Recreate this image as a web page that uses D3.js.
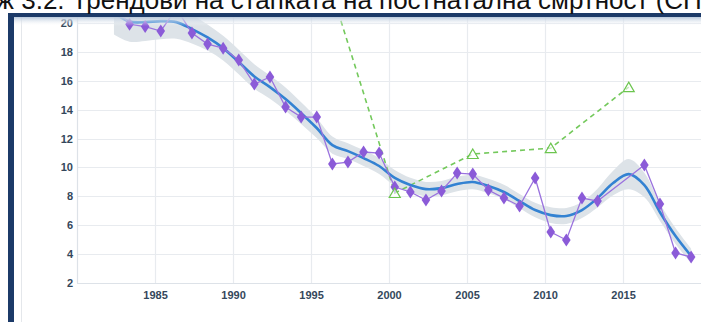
<!DOCTYPE html>
<html>
<head>
<meta charset="utf-8">
<script src="https://cdn.jsdelivr.net/npm/d3@7"></script>
<style>
  html, body { margin: 0; padding: 0; background: #fff; }
  svg { display: block; }
</style>
</head>
<body>
<svg id="chart" width="701" height="322"></svg>
<script>
// Observed rate by year
const obsYears = [1982,1983,1984,1985,1986,1987,1988,1989,1990,1991,1992,1993,1994,1995,1996,1997,1998,1999,
                  2000,2001,2002,2003,2004,2005,2006,2007,2008,2009,2010,2011,2012,2013,2016,2017,2018,2019];
const obsRate  = [21.2,19.92,19.75,19.44,21.0,19.3,18.54,18.26,17.43,15.77,16.26,14.18,13.49,13.49,10.24,10.37,11.07,11.0,
                  8.64,8.30,7.74,8.37,9.61,9.54,8.44,7.88,7.33,9.27,5.53,4.98,7.88,7.67,10.17,7.47,4.08,3.80];

// Smoothed trend with its confidence band
const trendYears = [1982,1983,1984,1985,1986,1987,1988,1989,1990,1991,1992,1993,1994,1995,1996,1997,1998,1999,
                    2000,2001,2002,2003,2004,2005,2006,2007,2008,2009,2010,2011,2012,2013,2014,2015,2016,2017,2018,2019];
const trend    = [20.7,20.1,20.06,20.13,20.06,19.58,19.0,18.26,17.3,16.3,15.56,14.73,13.76,12.73,11.55,11.13,10.65,10.1,
                  9.27,8.78,8.5,8.57,8.85,8.99,8.71,8.3,7.67,7.05,6.7,6.64,7.05,7.88,8.92,9.54,8.78,6.9,5.25,3.87];
const trendLow = [19.2,18.7,18.76,18.88,18.91,18.58,18.1,17.41,16.45,15.45,14.76,13.93,13.01,12.03,10.95,10.58,10.1,9.55,
                  8.72,8.28,8.0,8.07,8.35,8.49,8.21,7.8,7.17,6.55,6.15,6.09,6.5,7.23,8.07,8.49,7.93,6.3,4.7,3.37];
const trendHigh= [22.2,21.5,21.36,21.38,21.21,20.58,19.9,19.11,18.15,17.15,16.36,15.53,14.51,13.43,12.15,11.68,11.2,10.65,
                  9.82,9.28,9.0,9.07,9.35,9.49,9.21,8.8,8.17,7.55,7.25,7.19,7.6,8.53,9.77,10.59,9.63,7.5,5.8,4.37];

// Five-year series
const fiveYears = [1995, 2000, 2005, 2010, 2015];
const fiveRate  = [25.5, 8.23, 10.93, 11.34, 15.56];

// Axis ticks
const xTickYears = [1985, 1990, 1995, 2000, 2005, 2010, 2015];
const yTicks = [2, 4, 6, 8, 10, 12, 14, 16, 18, 20];

const titleLead = "Цртеж ";
const titleRest = "3.2. Трендови на стапката на постнатална смртност (СПС)";

const W = 701, H = 322;
const plot = { left: 77, right: 701, top: 17, bottom: 283 };

// observations are dated in the middle of May of each year
const obsDate = y => new Date(y, 4, 15);

const svg = d3.select("#chart");
svg.append("rect").attr("width", W).attr("height", H).attr("fill", "#fff");

const x = d3.scaleTime()
  .domain([new Date(1980, 0, 1), new Date(2020, 0, 1)])
  .range([plot.left, plot.right]);
const y = d3.scaleLinear().domain([2, 20]).range([283, 23]);

const defs = svg.append("defs");
defs.append("clipPath").attr("id", "plotClip")
  .append("rect").attr("x", plot.left).attr("y", plot.top)
  .attr("width", plot.right - plot.left).attr("height", H - plot.top);
const grad = defs.append("linearGradient").attr("id", "topShade")
  .attr("x1", 0).attr("y1", 0).attr("x2", 0).attr("y2", 1);
grad.append("stop").attr("offset", "0%").attr("stop-color", "#b9c9dc");
grad.append("stop").attr("offset", "100%").attr("stop-color", "#ffffff").attr("stop-opacity", 0);

// panel edge
svg.append("line").attr("x1", 21.5).attr("x2", 21.5).attr("y1", 17).attr("y2", H)
  .attr("stroke", "#e4e7eb").attr("stroke-width", 1);

// grid
const grid = svg.append("g");
grid.selectAll("line.h").data(yTicks).join("line")
  .attr("x1", plot.left).attr("x2", plot.right)
  .attr("y1", d => Math.round(y(d)) + 0.5).attr("y2", d => Math.round(y(d)) + 0.5)
  .attr("stroke", d => d === 2 ? "#dde2e8" : "#e8ebef").attr("stroke-width", 1.2);
grid.selectAll("line.v").data([1980].concat(xTickYears)).join("line")
  .attr("x1", d => Math.round(x(new Date(d, 0, 1))) + 0.5)
  .attr("x2", d => Math.round(x(new Date(d, 0, 1))) + 0.5)
  .attr("y1", plot.top).attr("y2", plot.bottom)
  .attr("stroke", d => d === 1980 ? "#dde2e8" : "#e8ebef").attr("stroke-width", 1.2);

// axes (labels only)
const xAxis = d3.axisBottom(x)
  .tickValues(xTickYears.map(d => new Date(d, 0, 1)))
  .tickFormat(d3.timeFormat("%Y")).tickSize(0).tickPadding(0);
const gx = svg.append("g").attr("transform", `translate(0,${plot.bottom + 8})`).call(xAxis);
const yAxis = d3.axisLeft(y).tickValues(yTicks).tickSize(0).tickPadding(0);
const gy = svg.append("g").attr("transform", `translate(${plot.left - 4},0)`).call(yAxis);
[gx, gy].forEach(g => {
  g.select(".domain").remove();
  g.selectAll("text")
    .attr("fill", "#34475b")
    .style("font-family", "'Liberation Sans', Arial, sans-serif")
    .style("font-size", "11px")
    .style("font-weight", "bold");
});

const data = svg.append("g").attr("clip-path", "url(#plotClip)");

// confidence band
const band = d3.area()
  .x((d, i) => x(obsDate(trendYears[i])))
  .y0((d, i) => y(trendLow[i]))
  .y1((d, i) => y(trendHigh[i]))
  .curve(d3.curveCatmullRom);
data.append("path").datum(trend).attr("d", band).attr("fill", "#dde3e8");

// five-year series
const fiveLine = d3.line().x((d, i) => x(obsDate(fiveYears[i]))).y(d => y(d));
data.append("path").datum(fiveRate).attr("d", fiveLine)
  .attr("fill", "none").attr("stroke", "#74c95c").attr("stroke-width", 1.6)
  .attr("stroke-dasharray", "5,4");

// trend line
const trendLine = d3.line().x((d, i) => x(obsDate(trendYears[i]))).y(d => y(d)).curve(d3.curveCatmullRom);
data.append("path").datum(trend).attr("d", trendLine)
  .attr("fill", "none").attr("stroke", "#3382d2").attr("stroke-width", 2.6);

// observed series
const obsLine = d3.line().x((d, i) => x(obsDate(obsYears[i]))).y(d => y(d));
data.append("path").datum(obsRate).attr("d", obsLine)
  .attr("fill", "none").attr("stroke", "#9a72de").attr("stroke-width", 1.3);
data.selectAll("path.diamond").data(obsRate).join("path")
  .attr("class", "diamond")
  .attr("d", "M0,-6.5L4.3,0L0,6.5L-4.3,0Z")
  .attr("transform", (d, i) => `translate(${x(obsDate(obsYears[i]))},${y(d)})`)
  .attr("fill", "#8b5bd8");

// five-year markers
data.selectAll("path.tri").data(fiveRate).join("path")
  .attr("class", "tri")
  .attr("d", "M0,-5L5.5,4.5L-5.5,4.5Z")
  .attr("transform", (d, i) => `translate(${x(obsDate(fiveYears[i]))},${y(d)})`)
  .attr("fill", "#fff").attr("fill-opacity", 0.6)
  .attr("stroke", "#6cc54f").attr("stroke-width", 1.2);

// frame
svg.append("rect").attr("x", 14).attr("y", 17).attr("width", W - 14).attr("height", 9)
  .attr("fill", "url(#topShade)");
svg.append("rect").attr("x", 8).attr("y", 13).attr("width", W - 8).attr("height", 4).attr("fill", "#1c3a68");
svg.append("rect").attr("x", 8).attr("y", 13).attr("width", 6).attr("height", H - 13).attr("fill", "#1c3a68");

// caption above the frame; the figure number starts at x = 14
const titleFont = "'Liberation Sans', Arial, sans-serif";
const titleSize = "26px";
const probe = svg.append("text").style("font-family", titleFont).style("font-size", titleSize)
  .text(titleLead);
const lead = probe.node().getComputedTextLength();
probe.remove();
svg.append("text")
  .attr("x", 14 - lead).attr("y", 9)
  .style("font-family", titleFont).style("font-size", titleSize)
  .attr("fill", "#111")
  .text(titleLead + titleRest);
</script>
</body>
</html>
